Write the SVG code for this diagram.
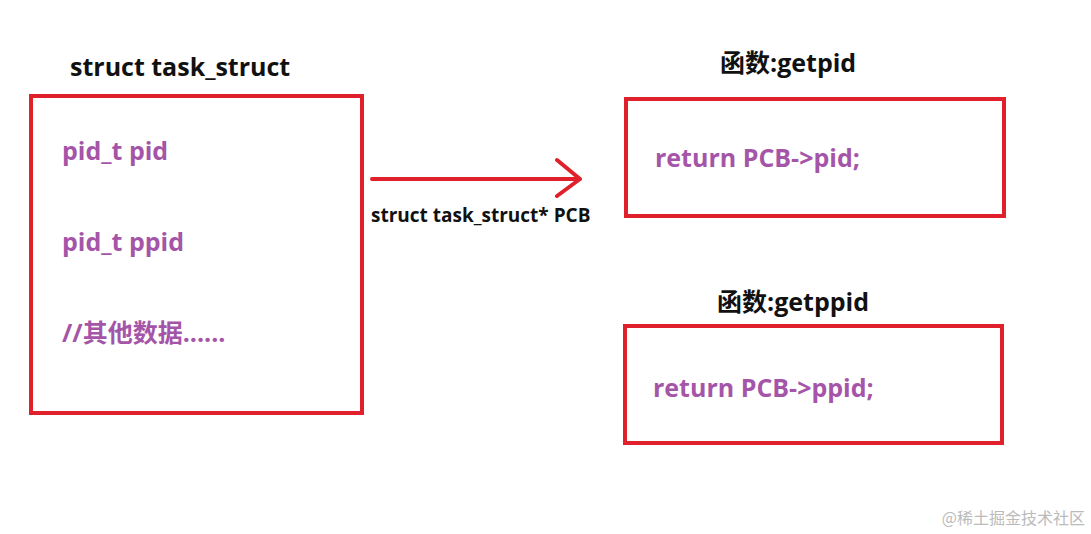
<svg xmlns="http://www.w3.org/2000/svg" width="1091" height="534" viewBox="0 0 1091 534">
<style>
.box{fill:none;stroke:#e0202a;stroke-width:4}
.t{font-family:"Open Sans","Noto Sans CJK SC",sans-serif;font-weight:bold}
.title{font-size:25px;fill:#111}
.code{font-size:25px;fill:#a555a8}
.lbl{font-size:19px;fill:#111}
</style>
<rect width="1091" height="534" fill="#fff"/>
<g id="task_struct">
<rect class="box" x="31" y="96" width="331" height="317"/>
<text class="t title" x="70" y="76">struct task_struct</text>
<text class="t code" x="62" y="160">pid_t  pid</text>
<text class="t code" x="62" y="251">pid_t  ppid</text>
<text class="t code" x="62" y="342">//其他数据......</text>
</g>
<g id="getpid">
<rect class="box" x="626" y="99" width="378" height="117"/>
<text class="t title" x="720" y="72">函数:getpid</text>
<text class="t code" x="655" y="167">return  PCB-&gt;pid;</text>
</g>
<g id="getppid">
<rect class="box" x="625" y="326" width="377" height="117"/>
<text class="t title" x="717" y="311">函数:getppid</text>
<text class="t code" x="653" y="397">return  PCB-&gt;ppid;</text>
</g>
<g id="connectors">
<path d="M372 179H580M557 160L580 179L557 196" fill="none" stroke="#e0202a" stroke-width="4" stroke-linecap="round" stroke-linejoin="round"/>
<text class="t lbl" x="371" y="222">struct task_struct* PCB</text>
</g>
<text x="1085" y="524" text-anchor="end" font-family="Noto Sans CJK SC,sans-serif" font-size="16" fill="#bbb">@稀土掘金技术社区</text>
</svg>
